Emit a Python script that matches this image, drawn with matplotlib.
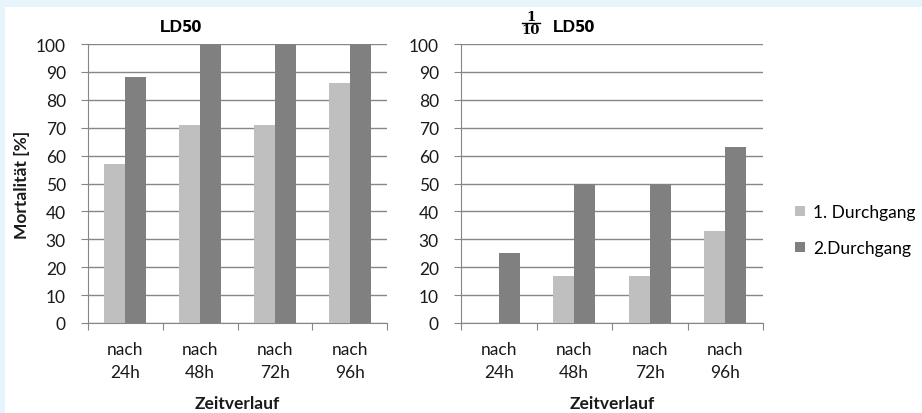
import matplotlib
matplotlib.use("Agg")
import matplotlib.pyplot as plt
import numpy as np
from matplotlib.patches import Patch, Rectangle
from matplotlib.lines import Line2D

categories = ["nach\n24h", "nach\n48h", "nach\n72h", "nach\n96h"]
series_names = ["1. Durchgang", "2.Durchgang"]
ld50_run1 = [57, 71, 71, 86]
ld50_run2 = [88, 100, 100, 100]
tenth_run1 = [0, 17, 17, 33]
tenth_run2 = [25, 50, 50, 63]
yticks = list(range(0, 101, 10))

c_light = "#BFBFBF"
c_dark = "#808080"
grid_c = "#868686"
txt_c = "#1a1a1a"
W, H = 922, 414
FS = 12.5

plt.rcParams['font.family'] = ['Lato', 'DejaVu Sans']

fig = plt.figure(figsize=(W / 100, H / 100), dpi=100)
fig.patch.set_facecolor("#E6F4FC")
fig.patches.append(Rectangle((5 / W, 0), 1, (H - 8) / H, transform=fig.transFigure,
                             facecolor="white", edgecolor="none", zorder=-10))

def px_ax(x0, x1, ytop, ybot):
    return fig.add_axes([x0 / W, (H - ybot) / H, (x1 - x0) / W, (ybot - ytop) / H])

ax1 = px_ax(88, 387, 45, 324)
ax2 = px_ax(461, 763, 45, 324)

x = np.arange(len(categories))
bw = 0.28
for ax, s1, s2 in [(ax1, ld50_run1, ld50_run2), (ax2, tenth_run1, tenth_run2)]:
    ax.bar(x - bw / 2, s1, width=bw, color=c_light, zorder=3)
    ax.bar(x + bw / 2, s2, width=bw, color=c_dark, zorder=3)
    ax.set_xlim(-0.5, len(categories) - 0.5)
    ax.set_ylim(0, 100)
    ax.set_yticks(yticks)
    ax.set_yticklabels([str(v) for v in yticks], fontsize=FS, color=txt_c)
    ax.yaxis.grid(True, color=grid_c, linewidth=1.0, zorder=0)
    ax.set_axisbelow(True)
    for sp in ["top", "right"]:
        ax.spines[sp].set_visible(False)
    ax.spines["left"].set_color(grid_c)
    ax.spines["bottom"].set_color(grid_c)
    ax.tick_params(axis="y", length=5, color=grid_c, pad=11)
    ax.set_xticks(np.arange(-0.5, len(categories), 1.0), minor=False)
    ax.set_xticklabels([])
    ax.tick_params(axis="x", which="major", length=5, color=grid_c)
    ax.set_xticks(x, minor=True)
    ax.set_xticklabels(categories, minor=True, fontsize=FS, color=txt_c, linespacing=1.5)
    ax.tick_params(axis="x", which="minor", length=0, pad=13)
    ax.set_xlabel("Zeitverlauf", fontsize=FS, fontweight="bold", color=txt_c, labelpad=11)
    ax.set_facecolor("none")

fig.text(22 / W, 1 - 184.5 / H, "Mortalität [%]", rotation=90, ha="center", va="center",
         fontsize=FS, fontweight="bold", color=txt_c)

# Titles
def ld50(xpx):
    fig.text(xpx / W, 1 - 32 / H, "LD", fontsize=12.5, fontweight="bold", ha="left", va="baseline",
             family=["Liberation Sans"], color="black")
    fig.text((xpx + 22) / W, 1 - 32 / H, "50", fontsize=10.5, fontweight="bold", ha="left",
             va="baseline", family=["DejaVu Sans"], color="black")

ld50(160)
ld50(553)

fig.text(531 / W, 1 - 21 / H, "1", fontsize=9.5, fontweight="bold", ha="center", va="baseline",
         family=["DejaVu Serif"], color="black")
fig.text(531 / W, 1 - 34 / H, "10", fontsize=9.5, fontweight="bold", ha="center", va="baseline",
         family=["DejaVu Serif"], color="black")
fig.add_artist(Line2D([522 / W, 540 / W], [1 - 24 / H, 1 - 24 / H], transform=fig.transFigure,
                      color="black", linewidth=1.0))

handles = [Patch(facecolor=c_light, edgecolor="none"), Patch(facecolor=c_dark, edgecolor="none")]
fig.legend(handles, series_names, loc="center left", bbox_to_anchor=(795 / W, 1 - 231 / H),
           frameon=False, fontsize=FS, handlelength=0.55, handleheight=0.55,
           handletextpad=0.5, labelspacing=1.15, borderpad=0, borderaxespad=0)

fig.savefig("out.png", dpi=100, facecolor=fig.get_facecolor())
